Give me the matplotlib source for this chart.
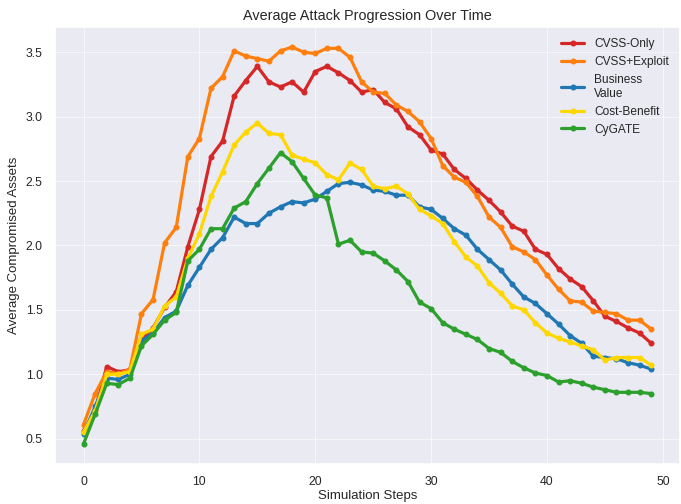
import matplotlib
matplotlib.use("Agg")
import matplotlib.pyplot as plt
import seaborn as sns
import numpy as np

sns.set_theme(style="darkgrid")
plt.rcParams['font.family'] = ['Liberation Sans', 'DejaVu Sans']

steps = np.arange(50)

cvss_only = [0.56, 0.72, 1.06, 1.02, 1.035, 1.27, 1.36, 1.52, 1.64, 1.99,
             2.28, 2.69, 2.81, 3.16, 3.28, 3.39, 3.27, 3.23, 3.27, 3.19,
             3.35, 3.39, 3.34, 3.28, 3.19, 3.21, 3.11, 3.06, 2.92, 2.86,
             2.74, 2.71, 2.59, 2.52, 2.43, 2.35, 2.26, 2.15, 2.11, 1.97,
             1.93, 1.82, 1.74, 1.68, 1.57, 1.45, 1.41, 1.36, 1.32, 1.24]
cvss_exploit = [0.61, 0.85, 1.02, 1.005, 1.04, 1.47, 1.58, 2.02, 2.14, 2.69,
                2.83, 3.22, 3.31, 3.51, 3.47, 3.45, 3.43, 3.51, 3.54, 3.50,
                3.49, 3.53, 3.53, 3.46, 3.27, 3.19, 3.18, 3.09, 3.04, 2.96,
                2.83, 2.62, 2.53, 2.49, 2.38, 2.22, 2.14, 1.99, 1.95, 1.89,
                1.77, 1.66, 1.57, 1.56, 1.49, 1.48, 1.47, 1.42, 1.42, 1.35]
business_value = [0.535, 0.75, 0.97, 0.96, 1.0, 1.26, 1.32, 1.44, 1.49, 1.69,
                  1.83, 1.97, 2.06, 2.22, 2.17, 2.17, 2.25, 2.30, 2.34, 2.33,
                  2.36, 2.42, 2.48, 2.49, 2.47, 2.43, 2.42, 2.39, 2.39, 2.30,
                  2.28, 2.21, 2.13, 2.08, 1.97, 1.89, 1.81, 1.70, 1.60, 1.55,
                  1.47, 1.39, 1.30, 1.24, 1.14, 1.13, 1.12, 1.09, 1.07, 1.04]
cost_benefit = [0.55, 0.715, 1.0, 1.0, 1.02, 1.31, 1.35, 1.53, 1.60, 1.90,
                2.09, 2.38, 2.57, 2.78, 2.88, 2.95, 2.87, 2.86, 2.70, 2.67,
                2.64, 2.55, 2.51, 2.64, 2.59, 2.46, 2.44, 2.46, 2.40, 2.28,
                2.23, 2.17, 2.03, 1.91, 1.84, 1.71, 1.63, 1.53, 1.50, 1.40,
                1.32, 1.28, 1.25, 1.22, 1.19, 1.11, 1.13, 1.13, 1.13, 1.07]
cygate = [0.46, 0.69, 0.93, 0.92, 0.97, 1.22, 1.31, 1.42, 1.48, 1.88,
          1.97, 2.13, 2.13, 2.29, 2.34, 2.48, 2.60, 2.72, 2.65, 2.52,
          2.39, 2.37, 2.01, 2.04, 1.95, 1.94, 1.88, 1.81, 1.72, 1.56,
          1.51, 1.40, 1.35, 1.31, 1.27, 1.20, 1.17, 1.10, 1.05, 1.01,
          0.99, 0.94, 0.95, 0.93, 0.90, 0.88, 0.86, 0.86, 0.86, 0.85]

series = [
    ("CVSS-Only", cvss_only, "#d62728"),
    ("CVSS+Exploit", cvss_exploit, "#ff7f0e"),
    ("Business\nValue", business_value, "#1f77b4"),
    ("Cost-Benefit", cost_benefit, "#ffd700"),
    ("CyGATE", cygate, "#2ca02c"),
]

fig, ax = plt.subplots(figsize=(6.81, 5.04), dpi=100)
for name, vals, col in series:
    ax.plot(steps, vals, color=col, linewidth=2.3, marker='o', markersize=3.3, label=name)

ax.grid(True, linewidth=0.8, alpha=0.6)
ax.set_title("Average Attack Progression Over Time", fontsize=10.4, pad=5)
ax.set_xlabel("Simulation Steps", fontsize=9.5, labelpad=1)
ax.set_ylabel("Average Compromised Assets", fontsize=9.5)
ax.tick_params(labelsize=8.8, pad=3)
ax.legend(loc='upper right', fontsize=8.6, frameon=False)

fig.subplots_adjust(left=0.081, right=0.998, top=0.946, bottom=0.08)
fig.savefig("out.png", dpi=100)
